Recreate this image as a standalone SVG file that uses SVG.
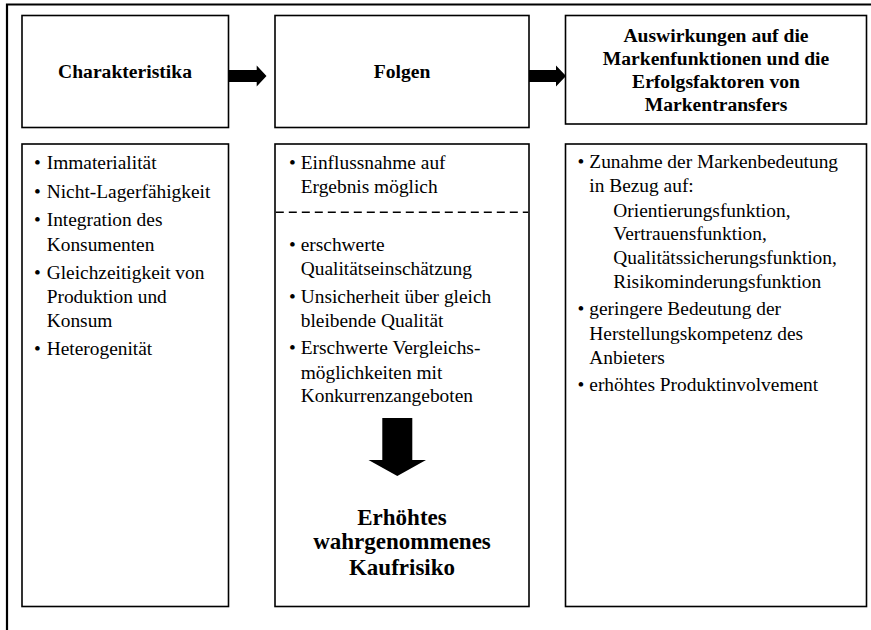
<svg xmlns="http://www.w3.org/2000/svg" width="871" height="630" viewBox="0 0 871 630">
<style>
.box{fill:#fff;stroke:#000;stroke-width:1.6}
.frame{fill:none;stroke:#000;stroke-width:2.2}
.t{font-family:"Liberation Serif","Times New Roman",serif;font-size:19.4px;fill:#000}
.h{font-family:"Liberation Serif","Times New Roman",serif;font-weight:bold;font-size:19.6px;fill:#000;text-anchor:middle}
.big{font-size:23px}
.arr{fill:#000;stroke:none}
.dash{stroke:#000;stroke-width:1.5;stroke-dasharray:8 5;fill:none}
</style>
<rect width="871" height="630" fill="#fff"/>
<path class="frame" d="M7,632 V4.5 H873"/>

<g id="charakteristika-header">
<rect class="box" x="22" y="15.5" width="206.5" height="112"/>
<text class="h" x="125" y="78">Charakteristika</text>
</g>
<g id="folgen-header">
<rect class="box" x="275" y="15.5" width="254" height="112"/>
<text class="h" x="402" y="78">Folgen</text>
</g>
<g id="auswirkungen-header">
<rect class="box" x="565.5" y="15.5" width="301" height="108.5"/>
<text class="h" x="716" y="41.7">Auswirkungen auf die</text>
<text class="h" x="716" y="65">Markenfunktionen und die</text>
<text class="h" x="716" y="87.5">Erfolgsfaktoren von</text>
<text class="h" x="716" y="110.7">Markentransfers</text>
</g>

<g id="charakteristika-list">
<rect class="box" x="22" y="144" width="206.5" height="462.5"/>
<g class="t">
<text x="34" y="169.3">•</text><text x="46.7" y="169.3">Immaterialität</text>
<text x="34" y="198.3">•</text><text x="46.7" y="198.3">Nicht-Lagerfähigkeit</text>
<text x="34" y="226.3">•</text><text x="46.7" y="226.3">Integration des</text>
<text x="46.7" y="250.7">Konsumenten</text>
<text x="34" y="278.5">•</text><text x="46.7" y="278.5">Gleichzeitigkeit von</text>
<text x="46.7" y="302.8">Produktion und</text>
<text x="46.7" y="327">Konsum</text>
<text x="34" y="354.5">•</text><text x="46.7" y="354.5">Heterogenität</text>
</g>
</g>

<g id="folgen-list">
<rect class="box" x="275" y="144" width="254" height="462.5"/>
<g class="t">
<text x="289" y="169">•</text><text x="300.7" y="169">Einflussnahme auf</text>
<text x="300.7" y="193.3">Ergebnis möglich</text>
<text x="289" y="250.7">•</text><text x="300.7" y="250.7">erschwerte</text>
<text x="300.7" y="275">Qualitätseinschätzung</text>
<text x="289" y="302.5">•</text><text x="300.7" y="302.5">Unsicherheit über gleich</text>
<text x="300.7" y="326.8">bleibende Qualität</text>
<text x="289" y="354.3">•</text><text x="300.7" y="354.3">Erschwerte Vergleichs-</text>
<text x="300.7" y="378.5">möglichkeiten mit</text>
<text x="300.7" y="402">Konkurrenzangeboten</text>
</g>
<path class="dash" d="M275.8,212.3 H528.2"/>
<text class="h big" x="402" y="525">Erhöhtes</text>
<text class="h big" x="402" y="549">wahrgenommenes</text>
<text class="h big" x="402" y="575">Kaufrisiko</text>
</g>

<g id="auswirkungen-list">
<rect class="box" x="565.5" y="144" width="301" height="462.5"/>
<g class="t">
<text x="577.5" y="168.3">•</text><text x="589.3" y="168.3">Zunahme der Markenbedeutung</text>
<text x="589.3" y="192">in Bezug auf:</text>
<text x="613.3" y="216.5">Orientierungsfunktion,</text>
<text x="613.3" y="240">Vertrauensfunktion,</text>
<text x="613.3" y="264">Qualitätssicherungsfunktion,</text>
<text x="613.3" y="288">Risikominderungsfunktion</text>
<text x="577.5" y="315.3">•</text><text x="589.3" y="315.3">geringere Bedeutung der</text>
<text x="589.3" y="339.5">Herstellungskompetenz des</text>
<text x="589.3" y="363.5">Anbieters</text>
<text x="577.5" y="391">•</text><text x="589.3" y="391">erhöhtes Produktinvolvement</text>
</g>
</g>

<g id="connectors">
<path class="arr" d="M228.5,70 H256.7 V65.5 L266.5,76 L256.7,86.5 V82 H228.5 Z"/>
<path class="arr" d="M529,70 H556 V65.5 L566,76 L556,86.5 V82 H529 Z"/>
<path class="arr" d="M382.3,418 H412.3 V460 H426 L397.3,476 L368.5,460 H382.3 Z"/>
</g>
</svg>
